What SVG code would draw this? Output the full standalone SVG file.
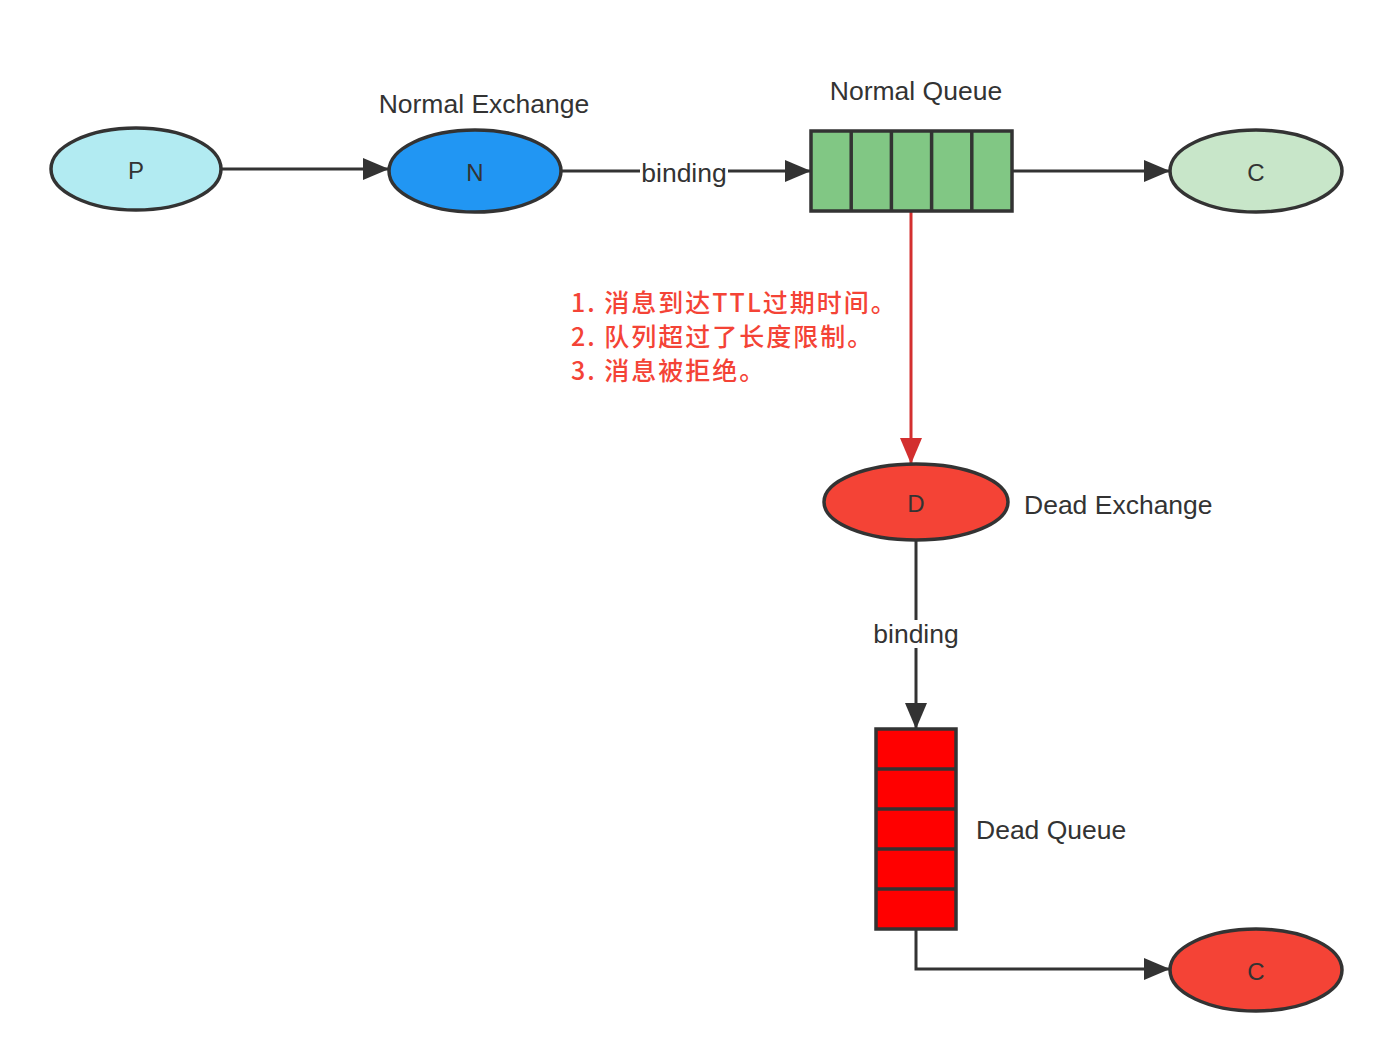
<svg xmlns="http://www.w3.org/2000/svg" width="1392" height="1061" viewBox="0 0 1392 1061">
<style>
.lbl{font-family:"Liberation Sans",Arial,sans-serif;font-size:26.5px;fill:#333}
.nl{font-family:"Liberation Sans",Arial,sans-serif;font-size:24px;fill:#333;text-anchor:middle;dominant-baseline:central}
.node{stroke:#333;stroke-width:3.5}
.conn{stroke:#333;stroke-width:3;fill:none}
.red{font-family:"Noto Sans CJK SC","Liberation Sans",sans-serif;font-size:25px;letter-spacing:2px;font-weight:500;fill:#F44336}
</style>
<defs>
<marker id="ah" markerUnits="userSpaceOnUse" markerWidth="28" markerHeight="24" refX="26" refY="11" orient="auto">
<path d="M0,0 L26,11 L0,22 z" fill="#333"/>
</marker>
<marker id="ahr" markerUnits="userSpaceOnUse" markerWidth="28" markerHeight="24" refX="26" refY="11" orient="auto">
<path d="M0,0 L26,11 L0,22 z" fill="#D32F2F"/>
</marker>
</defs>
<rect width="1392" height="1061" fill="#fff"/>
<g id="connectors">
<line class="conn" x1="221" y1="169" x2="389" y2="169" marker-end="url(#ah)"/>
<line class="conn" x1="561" y1="171" x2="811" y2="171" marker-end="url(#ah)"/>
<rect x="640" y="158" width="88" height="30" fill="#fff"/>
<text class="lbl" x="684" y="173" text-anchor="middle" dominant-baseline="central">binding</text>
<line class="conn" x1="1012" y1="171" x2="1170" y2="171" marker-end="url(#ah)"/>
<line x1="911" y1="211" x2="911" y2="464" stroke="#D32F2F" stroke-width="3" marker-end="url(#ahr)"/>
<line class="conn" x1="916" y1="540" x2="916" y2="729" marker-end="url(#ah)"/>
<rect x="868" y="620" width="96" height="28" fill="#fff"/>
<text class="lbl" x="916" y="634" text-anchor="middle" dominant-baseline="central">binding</text>
<polyline class="conn" points="916,929 916,969 1170,969" marker-end="url(#ah)"/>
</g>
<g id="note">
<text class="red" x="571" y="312">1. 消息到达TTL过期时间。</text>
<text class="red" x="571" y="346">2. 队列超过了长度限制。</text>
<text class="red" x="571" y="380">3. 消息被拒绝。</text>
</g>
<g id="P">
<ellipse class="node" cx="136" cy="169" rx="85" ry="41" fill="#B2EBF2"/>
<text class="nl" x="136" y="170">P</text>
</g>
<g id="N">
<ellipse class="node" cx="475" cy="171" rx="86" ry="41" fill="#2196F3"/>
<text class="nl" x="475" y="172">N</text>
<text class="lbl" x="484" y="104" text-anchor="middle" dominant-baseline="central">Normal Exchange</text>
</g>
<g id="NQ">
<rect class="node" x="811" y="131" width="201" height="80" fill="#81C784"/>
<line class="node" x1="851.2" y1="131" x2="851.2" y2="211"/>
<line class="node" x1="891.4" y1="131" x2="891.4" y2="211"/>
<line class="node" x1="931.6" y1="131" x2="931.6" y2="211"/>
<line class="node" x1="971.8" y1="131" x2="971.8" y2="211"/>
<text class="lbl" x="916" y="91" text-anchor="middle" dominant-baseline="central">Normal Queue</text>
</g>
<g id="C1">
<ellipse class="node" cx="1256" cy="171" rx="86" ry="41" fill="#C8E6C9"/>
<text class="nl" x="1256" y="172">C</text>
</g>
<g id="D">
<ellipse class="node" cx="916" cy="502" rx="92" ry="38" fill="#F44336"/>
<text class="nl" x="916" y="503">D</text>
<text class="lbl" x="1024" y="505" dominant-baseline="central">Dead Exchange</text>
</g>
<g id="DQ">
<rect class="node" x="876" y="729" width="80" height="200" fill="#FF0000"/>
<line class="node" x1="876" y1="769" x2="956" y2="769"/>
<line class="node" x1="876" y1="809" x2="956" y2="809"/>
<line class="node" x1="876" y1="849" x2="956" y2="849"/>
<line class="node" x1="876" y1="889" x2="956" y2="889"/>
<text class="lbl" x="976" y="830" dominant-baseline="central">Dead Queue</text>
</g>
<g id="C2">
<ellipse class="node" cx="1256" cy="970" rx="86" ry="41" fill="#F44336"/>
<text class="nl" x="1256" y="971">C</text>
</g>
</svg>
